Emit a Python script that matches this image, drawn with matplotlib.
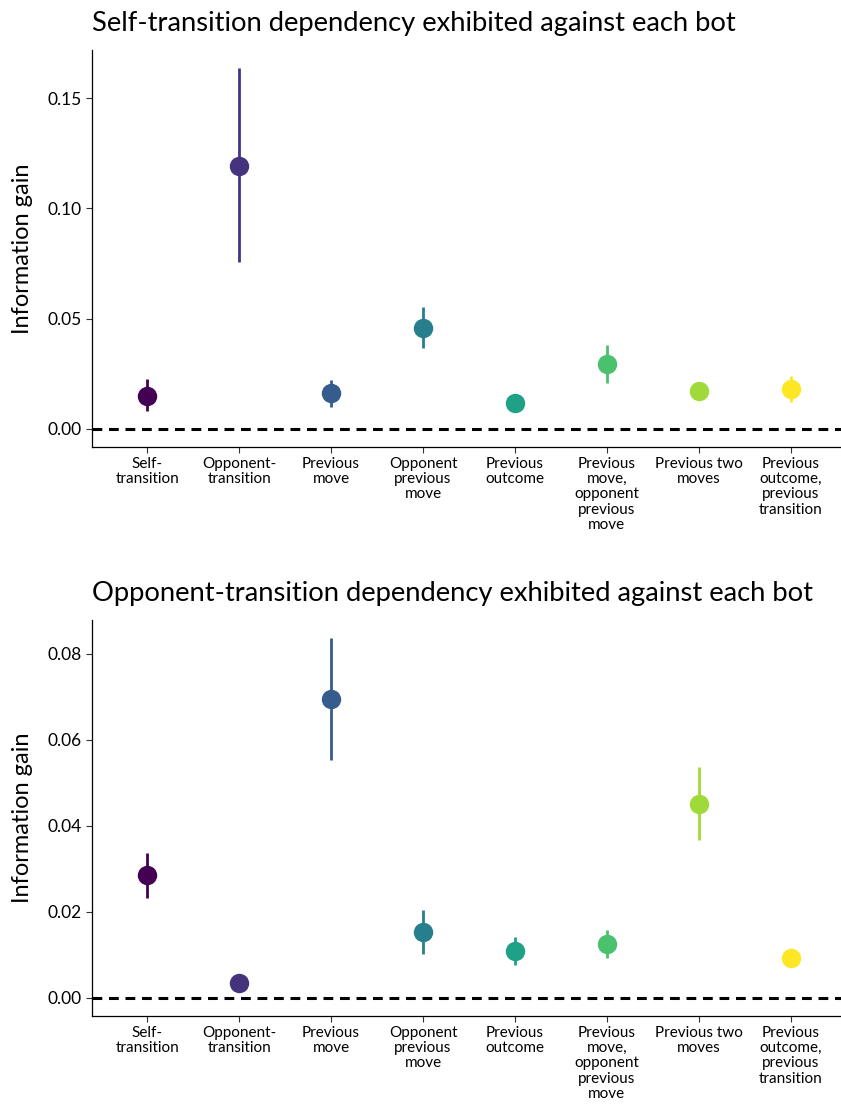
import matplotlib.pyplot as plt
import numpy as np

plt.rcParams['font.family'] = ['Lato', 'DejaVu Sans']

categories = ["Self-\ntransition", "Opponent-\ntransition", "Previous\nmove",
              "Opponent\nprevious\nmove", "Previous\noutcome",
              "Previous\nmove,\nopponent\nprevious\nmove", "Previous two\nmoves",
              "Previous\noutcome,\nprevious\ntransition"]
colors = ["#440154", "#46337E", "#365C8D", "#277F8E",
          "#1FA187", "#4AC16D", "#9FDA3A", "#FDE725"]

# top panel: self-transition dependency
self_mean = [0.0151, 0.1194, 0.0161, 0.0459, 0.0116, 0.0294, 0.0171, 0.0181]
self_lo = [0.0080, 0.0755, 0.0101, 0.0365, 0.0105, 0.0207, 0.0160, 0.0121]
self_hi = [0.0227, 0.1636, 0.0222, 0.0554, 0.0128, 0.0382, 0.0182, 0.0242]

# bottom panel: opponent-transition dependency
opp_mean = [0.0285, 0.0035, 0.0695, 0.0154, 0.0109, 0.0126, 0.0451, 0.0092]
opp_lo = [0.0232, 0.0018, 0.0553, 0.0103, 0.0076, 0.0093, 0.0367, 0.0076]
opp_hi = [0.0337, 0.0052, 0.0836, 0.0205, 0.0141, 0.0157, 0.0536, 0.0108]

titles = ["Self-transition dependency exhibited against each bot",
          "Opponent-transition dependency exhibited against each bot"]
yticks_top = [0.00, 0.05, 0.10, 0.15]
yticks_bot = [0.00, 0.02, 0.04, 0.06, 0.08]

W, H = 841, 1106
fig = plt.figure(figsize=(W / 100, H / 100), dpi=100)


def panel(top_px, bottom_px, title, mean, lo, hi, yticks):
    left_px, right_px = 92, 846
    ax = fig.add_axes([left_px / W, 1 - bottom_px / H,
                       (right_px - left_px) / W, (bottom_px - top_px) / H])
    x = np.arange(1, len(categories) + 1)
    ax.axhline(0, color="black", linestyle=(0, (3.2, 2.2)), linewidth=2.2, zorder=1)
    for xi, m, l, h, c in zip(x, mean, lo, hi, colors):
        ax.plot([xi, xi], [l, h], color=c, linewidth=2.0, solid_capstyle="butt", zorder=2)
        ax.plot(xi, m, "o", color=c, markersize=14, markeredgewidth=0, zorder=3)
    ymax = max(hi)
    pad = ymax * 0.05
    ax.set_ylim(-pad, ymax + pad)
    ax.set_xlim(0.4, 8.6)
    ax.set_xticks(x)
    ax.set_xticklabels(categories, fontsize=11, linespacing=1.12)
    ax.set_yticks(yticks)
    ax.set_yticklabels([f"{t:.2f}" for t in yticks], fontsize=12.5)
    ax.tick_params(axis="both", direction="out", length=4, width=0.8, color="#333333")
    ax.tick_params(axis="x", pad=3)
    for s in ["top", "right"]:
        ax.spines[s].set_visible(False)
    for s in ["left", "bottom"]:
        ax.spines[s].set_linewidth(0.9)
    ax.set_ylabel("Information gain", fontsize=17, labelpad=10)
    ax.set_title(title, fontsize=19.7, loc="left", x=0.0, pad=14)
    return ax


panel(50, 447, titles[0], self_mean, self_lo, self_hi, yticks_top)
panel(620, 1016, titles[1], opp_mean, opp_lo, opp_hi, yticks_bot)

fig.savefig("out.png", dpi=100)
